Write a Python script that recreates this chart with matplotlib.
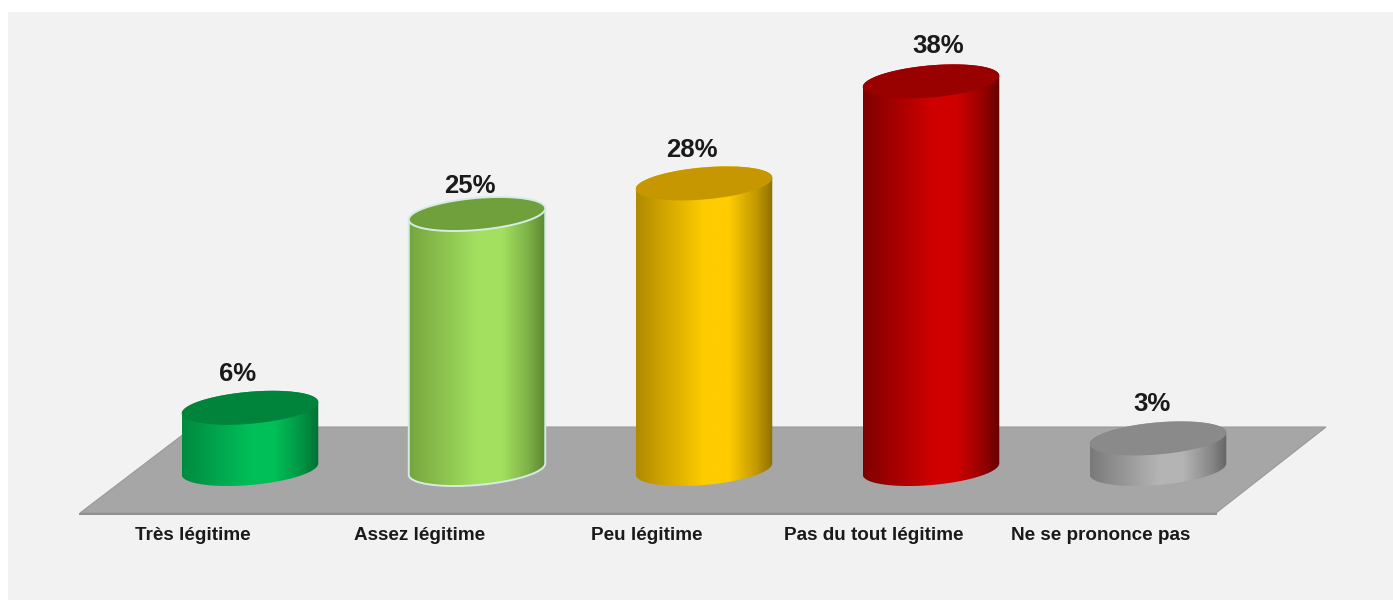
import numpy as np
import matplotlib
matplotlib.use('Agg')
import matplotlib.pyplot as plt
from matplotlib.colors import LinearSegmentedColormap, to_rgb
from matplotlib.patches import Polygon, Rectangle

categories = ['Très légitime', 'Assez légitime', 'Peu légitime',
              'Pas du tout légitime', 'Ne se prononce pas']
values = [6, 25, 28, 38, 3]
value_labels = ['6%', '25%', '28%', '38%', '3%']

# side shading: left, light, right, then top cap and outline
side_left = ['#008a40', '#76a53e', '#b08a00', '#800000', '#7a7a7a']
side_mid = ['#00bf58', '#a3e060', '#ffcc00', '#cf0000', '#b4b4b4']
side_right = ['#006f33', '#5c8630', '#8f7000', '#660000', '#666666']
top_color = ['#00843c', '#70a03c', '#c79700', '#990000', '#8a8a8a']
edge_color = [None, '#d4ece4', None, None, None]

W, H = 1393, 600
X0, DX = 250, 227       # pixel of first category, pixels per category
Y0, DY = 469, 10.2      # pixel of 0%, pixels per 1%
A, B, TILT = 68.5, 16, np.radians(5)


def px_x(p):
    return (p - X0) / DX


def px_y(p):
    return (Y0 - p) / DY


def ellipse(i, v, t):
    x = A * np.cos(TILT) * np.cos(t) - B * np.sin(TILT) * np.sin(t)
    y = A * np.sin(TILT) * np.cos(t) + B * np.cos(TILT) * np.sin(t)
    return i + x / DX, v + y / DY


def blend(c1, c2, f):
    return tuple((1 - f) * a + f * b for a, b in zip(to_rgb(c1), to_rgb(c2)))


fig = plt.figure(figsize=(W / 100, H / 100), dpi=100, facecolor='white')
ax = fig.add_axes([0, 0, 1, 1])
ax.axis('off')
xlim = (px_x(0), px_x(W))
ylim = (px_y(H), px_y(0))

ax.add_patch(Rectangle((px_x(8), px_y(600)), 1385 / DX, 588 / DY,
                       fc='#f2f2f2', ec='none', zorder=0))
floor = [(80, 513), (1216, 513), (1326, 427), (193, 427)]
ax.add_patch(Polygon([(px_x(a), px_y(b)) for a, b in floor],
                     fc='#a6a6a6', ec='#9a9a9a', lw=0.8, zorder=1))
ax.plot([px_x(80), px_x(1216)], [px_y(513.5), px_y(513.5)],
        color='#8e8e8e', lw=1.4, zorder=1)

t0 = np.arctan2(-B * np.sin(TILT), A * np.cos(TILT))
upper = np.linspace(t0, t0 + np.pi, 120)
lower = np.linspace(t0 + np.pi, t0 + 2 * np.pi, 120)
shade = np.linspace(0, 1, 256).reshape(1, -1)

for i, v in enumerate(values):
    ux, uy = ellipse(i, v, upper)
    lx, ly = ellipse(i, 0, lower)
    outline = np.column_stack([np.r_[ux, lx], np.r_[uy, ly]])
    cmap = LinearSegmentedColormap.from_list(
        'side', [(0, side_left[i]), (0.5, side_mid[i]), (0.68, side_mid[i]),
                 (0.88, blend(side_mid[i], side_right[i], 0.55)),
                 (1, side_right[i])])
    im = ax.imshow(shade, cmap=cmap, aspect='auto', zorder=2,
                   extent=(ux.min(), ux.max(), ly.min(), uy.max()))
    im.set_clip_path(Polygon(outline, transform=ax.transData))
    if edge_color[i]:
        ax.plot(np.r_[ux[-1], lx, ux[0]], np.r_[uy[-1], ly, uy[0]],
                color=edge_color[i], lw=1.4, zorder=3)

    t = np.linspace(0, 2 * np.pi, 240)
    ex, ey = ellipse(i, v, t)
    ax.add_patch(Polygon(np.column_stack([ex, ey]), fc=top_color[i],
                         ec=edge_color[i] or 'none',
                         lw=1.4 if edge_color[i] else 0, zorder=4))

label_px = [(238, 374), (470, 186), (692, 150), (938, 46), (1152, 404)]
for (px, py), lab in zip(label_px, value_labels):
    ax.text(px_x(px), px_y(py), lab, ha='center', va='center',
            family='Liberation Sans', weight='bold', fontsize=18.5,
            color='#1a1a1a', zorder=5)

for i, name in enumerate(categories):
    ax.text(i + px_x(193), px_y(536), name, ha='center', va='center',
            family='Liberation Sans', weight='bold', fontsize=13.6,
            color='#1a1a1a', zorder=5)

ax.set_xlim(xlim)
ax.set_ylim(ylim)
fig.savefig('out.png', dpi=100, facecolor='white')
